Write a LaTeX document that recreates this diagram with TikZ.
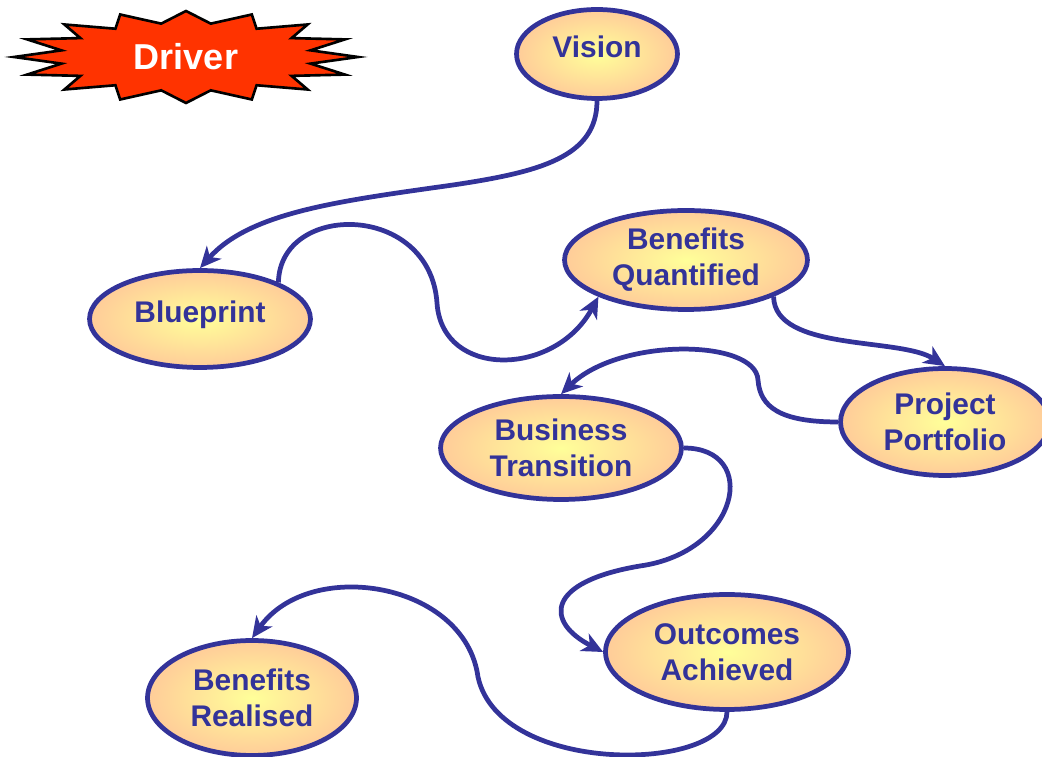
\documentclass[tikz,border=0pt]{standalone}
\usepackage{fontspec}
\setmainfont{Liberation Sans}
\usepackage{tikz}
\usetikzlibrary{arrows.meta,shapes.geometric}
\definecolor{mapblue}{RGB}{51,51,153}
\definecolor{mapred}{RGB}{255,51,0}
\definecolor{glowin}{RGB}{255,255,153}
\definecolor{glowout}{RGB}{255,204,153}
\tikzset{
  stage/.style={ellipse, draw=mapblue, line width=2.7pt, inner sep=0pt,
    inner color=glowin, outer color=glowout, text=mapblue, align=center,
    font=\fontsize{17}{20.4}\selectfont\bfseries},
  oneline/.style={text depth=0.3cm},
  link/.style={draw=mapblue, line width=2.7pt,
    -{Stealth[length=12pt, width=11pt, inset=3.5pt]}},
}

\begin{document}
\begin{tikzpicture}[x=0.02cm, y=0.02cm]
  \useasboundingbox (0,0) rectangle (1042,757);

  % === DRIVER BURST ===
  \begin{scope}[shift={(186,700)}]
    \draw[black, line width=1.5pt, fill=mapred]
      (0:172 and 46) \foreach \k in {1,...,16}
        { -- (\k*22.5-11.25:127 and 34) -- (\k*22.5:172 and 46) } -- cycle;
  \end{scope}
  \node[text=white, font=\fontsize{20.5}{24}\selectfont\bfseries]
    (driver) at (186,700) {Driver};

  % === STAGES ===
  \node[stage, oneline, minimum width=3.22cm, minimum height=1.78cm]
    (vision) at (597,703) {Vision};
  \node[stage, oneline, minimum width=4.42cm, minimum height=1.94cm]
    (blueprint) at (200,438) {Blueprint};
  \node[stage, minimum width=4.86cm, minimum height=1.98cm]
    (quantified) at (686,497) {Benefits\\Quantified};
  \node[stage, minimum width=4.18cm, minimum height=2.14cm]
    (portfolio) at (945,335) {Project\\Portfolio};
  \node[stage, minimum width=4.82cm, minimum height=2.06cm]
    (transition) at (561,309) {Business\\Transition};
  \node[stage, minimum width=4.86cm, minimum height=2.30cm]
    (outcomes) at (727,105) {Outcomes\\Achieved};
  \node[stage, minimum width=4.18cm, minimum height=2.30cm]
    (realised) at (252,59) {Benefits\\Realised};

  % === LINKS ===
  % Vision down to the blueprint
  \draw[link] (vision.south) .. controls (597,600) and (540,585) .. (453,572)
    .. controls (340,556) and (250,545) .. (blueprint.north);
  % blueprint over the hump to the quantified benefits
  \draw[link] (blueprint.25) .. controls (280,555) and (430,555) .. (437,454)
    .. controls (442,378) and (555,380) .. (quantified.south west);
  % benefits into the portfolio
  \draw[link] (quantified.south east) .. controls (775,405) and (900,420)
    .. (portfolio.north);
  % portfolio back to the transition
  \draw[link] (portfolio.west) .. controls (780,335) and (760,350) .. (758,377)
    .. controls (756,418) and (620,420) .. (transition.north);
  % transition down to the outcomes
  \draw[link] (transition.east) .. controls (760,309) and (740,205) .. (640,191)
    .. controls (545,175) and (545,135) .. (outcomes.west);
  % outcomes round to the realised benefits
  \draw[link] (outcomes.south) .. controls (727,-15) and (500,-20) .. (478,80)
    .. controls (465,175) and (310,200) .. (realised.north);

\end{tikzpicture}
\end{document}
